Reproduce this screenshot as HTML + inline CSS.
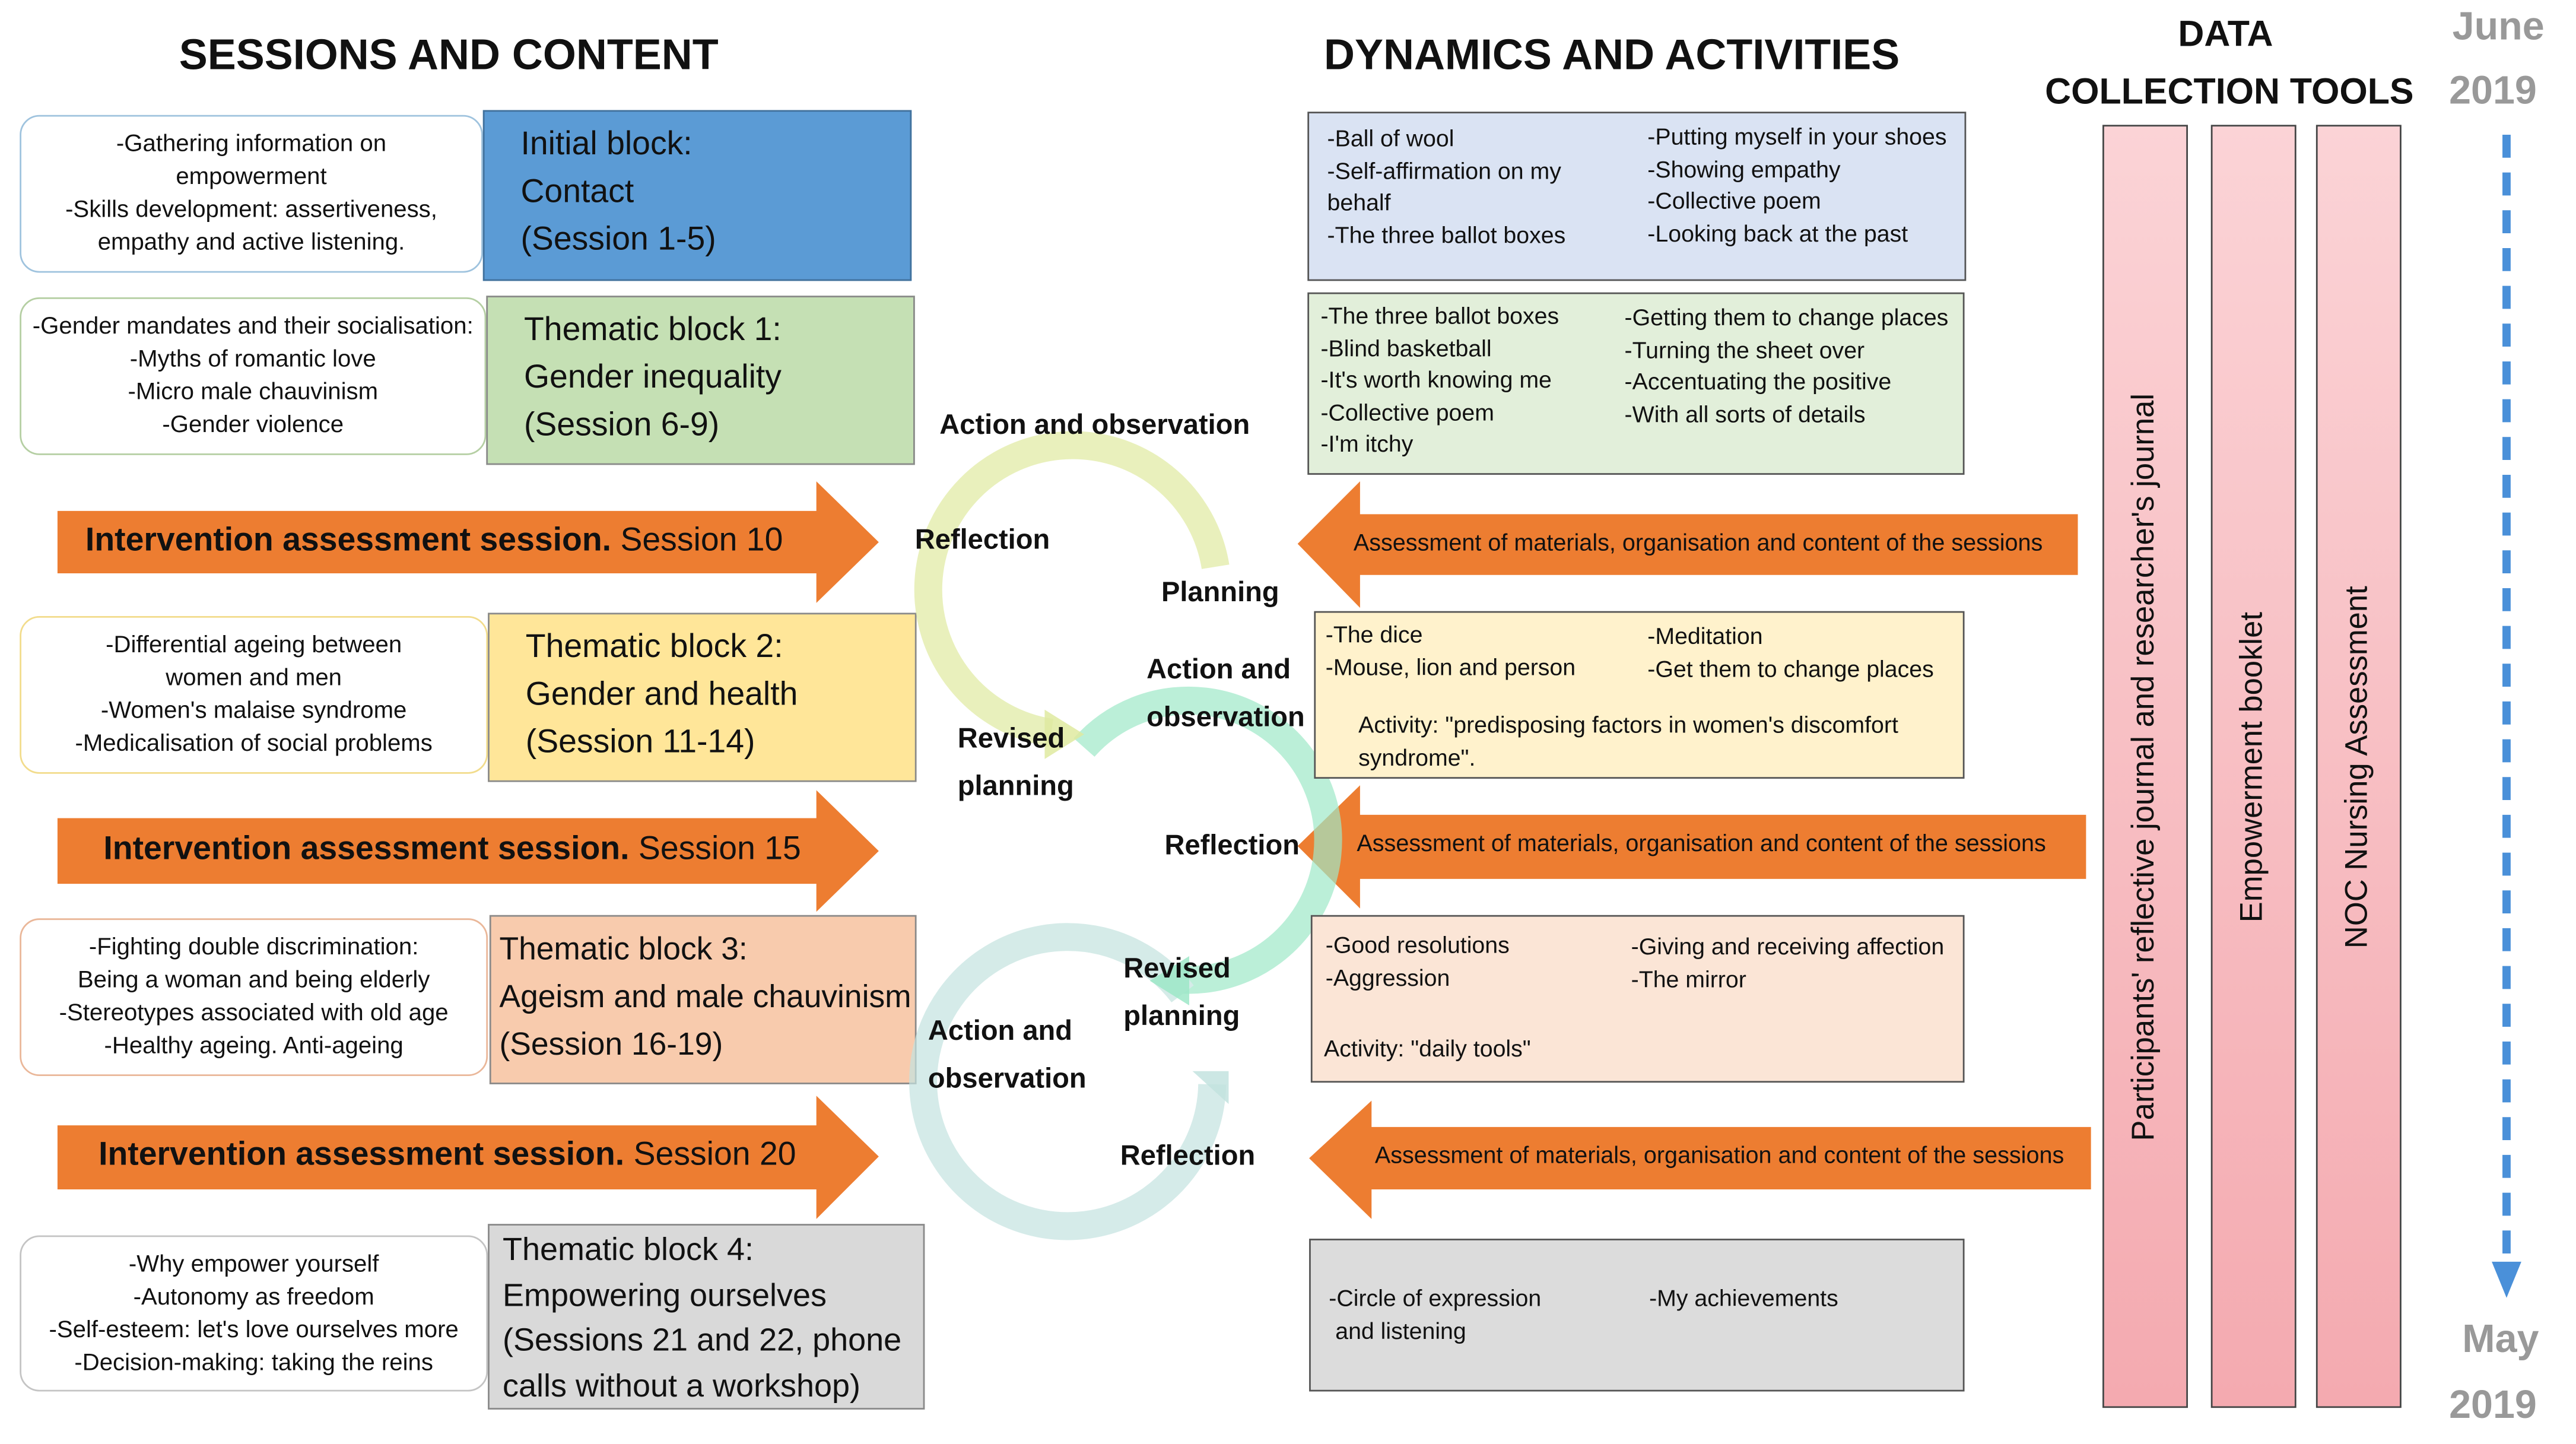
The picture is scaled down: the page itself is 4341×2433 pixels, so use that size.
<!DOCTYPE html>
<html><head><meta charset="utf-8"><style>
html,body{margin:0;padding:0;background:#fff;}
body{width:4341px;height:2432px;overflow:hidden;position:relative;}
#s{position:absolute;left:0;top:0;width:1569px;height:879px;transform:scale(2.768);transform-origin:0 0;font-family:"Liberation Sans",Arial,sans-serif;color:#111;}
.a{position:absolute;}
.h{font-weight:bold;font-size:26px;white-space:nowrap;}
.lb{position:absolute;background:#fff;border:1.5px solid;border-radius:12px;font-size:14.5px;line-height:20px;text-align:center;display:flex;align-items:center;justify-content:center;box-sizing:border-box;}
.bk{position:absolute;border:1.5px solid #8a8a8a;font-size:20px;line-height:29px;box-sizing:border-box;padding:6px 0 0 22px;white-space:nowrap;}
.rb{position:absolute;border:1.5px solid #555;font-size:14.2px;line-height:19.5px;box-sizing:border-box;}
.t{position:absolute;white-space:nowrap;}
.lab{position:absolute;font-weight:bold;font-size:17px;white-space:nowrap;line-height:29px;}
.col{position:absolute;top:76px;width:52px;height:781px;border:1.5px solid #444;box-sizing:border-box;background:linear-gradient(#fbd3d6,#f4aab0);}
.vt{position:absolute;left:50%;top:50%;transform:translate(-50%,-50%) rotate(-90deg);font-size:19px;white-space:nowrap;}
.gy{position:absolute;color:#999;font-weight:bold;font-size:24px;}
</style></head><body><div id="s">
<div class="a h" style="left:109px;top:18px">SESSIONS AND CONTENT</div>
<div class="a h" style="left:806px;top:18px">DYNAMICS AND ACTIVITIES</div>
<div class="a h" style="left:1326px;top:8px;font-size:22px">DATA</div>
<div class="a h" style="left:1245px;top:43px;font-size:22px">COLLECTION TOOLS</div>
<div class="gy" style="left:1493px;top:3px">June</div>
<div class="gy" style="left:1491px;top:42px">2019</div>
<div class="gy" style="left:1499px;top:802px">May</div>
<div class="gy" style="left:1491px;top:842px">2019</div>
<svg class="a" style="left:1510px;top:78px" width="34" height="720"><line x1="16" y1="4" x2="16" y2="695" stroke="#4a90d9" stroke-width="5" stroke-dasharray="14,9"/><polygon points="7,690 25,690 16,712" fill="#4a90d9"/></svg>

<div class="lb" style="left:12px;top:70px;width:282px;height:96px;border-color:#9fc3de">-Gathering information on<br>empowerment<br>-Skills development: assertiveness,<br>empathy and active listening.</div>
<div class="lb" style="left:12px;top:181px;width:284px;height:96px;border-color:#b5cfa3">-Gender mandates and their socialisation:<br>-Myths of romantic love<br>-Micro male chauvinism<br>-Gender violence</div>
<div class="lb" style="left:12px;top:375px;width:285px;height:96px;border-color:#f2dc8c">-Differential ageing between<br>women and men<br>-Women's malaise syndrome<br>-Medicalisation of social problems</div>
<div class="lb" style="left:12px;top:559px;width:285px;height:96px;border-color:#eab799">-Fighting double discrimination:<br>Being a woman and being elderly<br>-Stereotypes associated with old age<br>-Healthy ageing. Anti-ageing</div>
<div class="lb" style="left:12px;top:752px;width:285px;height:95px;border-color:#c4c4c4">-Why empower yourself<br>-Autonomy as freedom<br>-Self-esteem: let's love ourselves more<br>-Decision-making: taking the reins</div>

<div class="bk" style="left:294px;top:67px;width:261px;height:104px;background:#5b9bd5;border-color:#41719c">Initial block:<br>Contact<br>(Session 1-5)</div>
<div class="bk" style="left:296px;top:180px;width:261px;height:103px;background:#c5e0b4">Thematic block 1:<br>Gender inequality<br>(Session 6-9)</div>
<div class="bk" style="left:297px;top:373px;width:261px;height:103px;background:#ffe699">Thematic block 2:<br>Gender and health<br>(Session 11-14)</div>
<div class="bk" style="left:298px;top:557px;width:260px;height:103px;background:#f8cbad;padding-left:5px;font-size:19.3px">Thematic block 3:<br>Ageism and male chauvinism<br>(Session 16-19)</div>
<div class="bk" style="left:297px;top:745px;width:266px;height:113px;background:#d9d9d9;padding-left:8px;padding-top:2px;font-size:19.5px;line-height:27.5px">Thematic block 4:<br>Empowering ourselves<br>(Sessions 21 and 22, phone<br>calls without a workshop)</div>

<svg class="a" style="left:0;top:0" width="1569" height="879">
<polygon points="35,311 497,311 497,293 535,330 497,367 497,349 35,349" fill="#ed7d31"/>
<polygon points="35,498 497,498 497,481 535,518 497,555 497,538 35,538" fill="#ed7d31"/>
<polygon points="35,685 497,685 497,667 535,704 497,742 497,724 35,724" fill="#ed7d31"/>
<polygon points="1265,313 828,313 828,293 790,331 828,370 828,350 1265,350" fill="#ed7d31"/>
<polygon points="1270,496 828,496 828,478 790,515 828,553 828,535 1270,535" fill="#ed7d31"/>
<polygon points="1273,686 835,686 835,670 797,705 835,742 835,724 1273,724" fill="#ed7d31"/>
<g fill="none" stroke-width="17" opacity="0.7">
<path d="M740,345 A88,88 0 1 0 640,446" stroke="#dfeaa0"/>
<path d="M660,455 A85,85 0 1 1 715,596" stroke="#9ee8c8"/>
<path d="M720,605 A88,88 0 1 0 738,660" stroke="#c3e3df"/>
</g>
<polygon points="636,432 660,447 636,462" fill="#dfeaa0" opacity="0.85"/>
<polygon points="724,582 700,597 724,612" fill="#9ee8c8" opacity="0.85"/>
<polygon points="726,652 748,652 748,672" fill="#c3e3df" opacity="0.85"/>
</svg>
<div class="a" style="left:52px;top:318px;font-size:20px;color:#111"><b>Intervention assessment session.</b> Session 10</div>
<div class="a" style="left:63px;top:506px;font-size:20px"><b>Intervention assessment session.</b> Session 15</div>
<div class="a" style="left:60px;top:692px;font-size:20px"><b>Intervention assessment session.</b> Session 20</div>
<div class="t" style="left:824px;top:323px;font-size:14.3px">Assessment of materials, organisation and content of the sessions</div>
<div class="t" style="left:826px;top:506px;font-size:14.3px">Assessment of materials, organisation and content of the sessions</div>
<div class="t" style="left:837px;top:696px;font-size:14.3px">Assessment of materials, organisation and content of the sessions</div>

<div class="lab" style="left:572px;top:244px">Action and observation</div>
<div class="lab" style="left:557px;top:314px">Reflection</div>
<div class="lab" style="left:707px;top:346px">Planning</div>
<div class="lab" style="left:698px;top:393px">Action and<br>observation</div>
<div class="lab" style="left:583px;top:435px">Revised<br>planning</div>
<div class="lab" style="left:709px;top:500px">Reflection</div>
<div class="lab" style="left:684px;top:575px">Revised<br>planning</div>
<div class="lab" style="left:565px;top:613px">Action and<br>observation</div>
<div class="lab" style="left:682px;top:689px">Reflection</div>

<div class="rb" style="left:796px;top:68px;width:401px;height:103px;background:#dae3f3">
<div class="t" style="left:11px;top:7px">-Ball of wool<br>-Self-affirmation on my<br>behalf<br>-The three ballot boxes</div>
<div class="t" style="left:206px;top:6px">-Putting myself in your shoes<br>-Showing empathy<br>-Collective poem<br>-Looking back at the past</div></div>
<div class="rb" style="left:796px;top:178px;width:400px;height:111px;background:#e2efda">
<div class="t" style="left:7px;top:5px">-The three ballot boxes<br>-Blind basketball<br>-It's worth knowing me<br>-Collective poem<br>-I'm itchy</div>
<div class="t" style="left:192px;top:6px">-Getting them to change places<br>-Turning the sheet over<br>-Accentuating the positive<br>-With all sorts of details</div></div>
<div class="rb" style="left:800px;top:372px;width:396px;height:102px;background:#fff2cc">
<div class="t" style="left:6px;top:5px">-The dice<br>-Mouse, lion and person</div>
<div class="t" style="left:202px;top:6px">-Meditation<br>-Get them to change places</div>
<div class="t" style="left:26px;top:60px">Activity: "predisposing factors in women's discomfort<br>syndrome".</div></div>
<div class="rb" style="left:798px;top:557px;width:398px;height:102px;background:#fbe5d6">
<div class="t" style="left:8px;top:9px">-Good resolutions<br>-Aggression</div>
<div class="t" style="left:194px;top:10px">-Giving and receiving affection<br>-The mirror</div>
<div class="t" style="left:7px;top:72px">Activity: "daily tools"</div></div>
<div class="rb" style="left:797px;top:754px;width:399px;height:93px;background:#dcdcdc">
<div class="t" style="left:11px;top:27px">-Circle of expression<br>&nbsp;and listening</div>
<div class="t" style="left:206px;top:27px">-My achievements</div></div>

<div class="col" style="left:1280px"><div class="vt">Participants' reflective journal and researcher's journal</div></div>
<div class="col" style="left:1346px"><div class="vt">Empowerment booklet</div></div>
<div class="col" style="left:1410px"><div class="vt">NOC Nursing Assessment</div></div>
</div></body></html>
